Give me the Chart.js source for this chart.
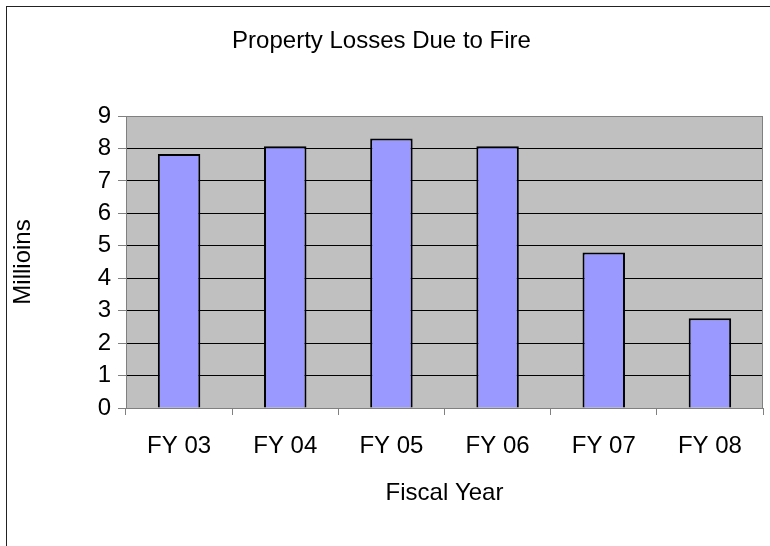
<!DOCTYPE html>
<html>
<head>
<meta charset="utf-8">
<script src="https://cdn.jsdelivr.net/npm/chart.js@4/dist/chart.umd.min.js"></script>
<style>
    html, body { margin: 0; padding: 0; background: #fff; }
    .wrap { position: relative; width: 770px; height: 546px; overflow: hidden; }
    .frame {
        position: absolute; left: 6px; top: 6px; width: 800px; height: 600px;
        border-left: 1px solid #222; border-top: 1px solid #222;
    }
    #lossChart { position: absolute; left: 0; top: 0; }
</style>
</head>
<body>
<div class="wrap">
    <div class="frame"></div>
    <canvas id="lossChart" width="770" height="546"></canvas>
</div>
<script>
// データ
const fiscalYears = ['FY 03', 'FY 04', 'FY 05', 'FY 06', 'FY 07', 'FY 08'];
const lossMillions = [7.83, 8.07, 8.31, 8.07, 4.79, 2.77];
const yTicks = [0, 1, 2, 3, 4, 5, 6, 7, 8, 9];

const FONT = "'Liberation Sans', Arial, sans-serif";

// プロットエリアの背景と右枠
const plotArea = {
    id: 'plotArea',
    beforeDraw(chart) {
        const { ctx, chartArea: a } = chart;
        ctx.save();
        ctx.fillStyle = '#C0C0C0';
        ctx.fillRect(a.left, a.top, a.right - a.left, a.bottom - a.top);
        ctx.restore();
    },
    afterDraw(chart) {
        const { ctx, chartArea: a } = chart;
        ctx.save();
        ctx.strokeStyle = '#808080';
        ctx.lineWidth = 1;
        ctx.beginPath();
        ctx.moveTo(a.right - 0.5, a.top);
        ctx.lineTo(a.right - 0.5, a.bottom);
        ctx.stroke();
        ctx.restore();
    }
};

function renderLossChart() {
    new Chart(document.getElementById('lossChart'), {
        type: 'bar',
        data: {
            labels: fiscalYears,
            datasets: [{
                data: lossMillions,
                backgroundColor: '#9999FF',
                borderColor: '#000',
                borderWidth: 2,
                barPercentage: 0.4,
                categoryPercentage: 1
            }]
        },
        options: {
            responsive: false,
            animation: false,
            layout: { padding: { top: 0, right: 7, bottom: 38, left: 0 } },
            plugins: {
                legend: { display: false },
                tooltip: { enabled: false },
                title: {
                    display: true,
                    text: 'Property Losses Due to Fire',
                    color: '#000',
                    font: { family: FONT, size: 24, weight: 'normal' },
                    padding: { top: 26.6, bottom: 60.6 }
                }
            },
            scales: {
                x: {
                    afterFit: (scale) => { scale.height = 100; },
                    grid: {
                        drawOnChartArea: false,
                        offset: true,
                        tickLength: 7,
                        tickColor: '#808080'
                    },
                    border: { color: '#808080' },
                    ticks: {
                        color: '#000',
                        padding: 16.6,
                        font: { family: FONT, size: 24 }
                    },
                    title: {
                        display: true,
                        text: 'Fiscal Year',
                        color: '#000',
                        font: { family: FONT, size: 24 },
                        padding: { top: 0, bottom: 0 }
                    }
                },
                y: {
                    min: yTicks[0],
                    max: yTicks[yTicks.length - 1],
                    afterFit: (scale) => { scale.width = 126; },
                    afterBuildTicks: (scale) => {
                        scale.ticks = yTicks.map((v) => ({ value: v }));
                    },
                    grid: {
                        color: (ctx) => (ctx.tick && ctx.tick.value === 9 ? '#808080' : '#000'),
                        tickLength: 8,
                        tickColor: '#808080'
                    },
                    border: { color: '#808080' },
                    ticks: {
                        color: '#000',
                        padding: 7,
                        font: { family: FONT, size: 24 }
                    },
                    title: {
                        display: true,
                        text: 'Millioins',
                        color: '#000',
                        font: { family: FONT, size: 24 },
                        padding: { top: 8.6, bottom: 0 }
                    }
                }
            }
        },
        plugins: [plotArea]
    });
}

renderLossChart();
</script>
</body>
</html>
